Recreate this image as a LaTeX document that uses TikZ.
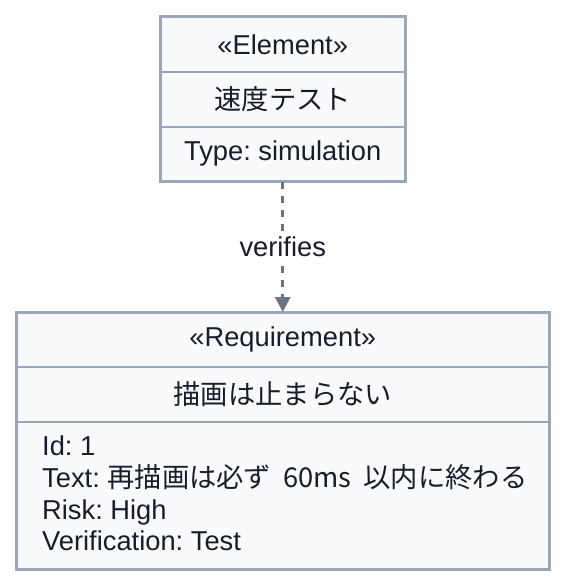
\documentclass[tikz,border=0pt]{standalone}
\usepackage{fontspec}
\setmainfont{Liberation Sans}
\newfontfamily\cjk{Noto Sans CJK JP}
\usetikzlibrary{arrows.meta}
\frenchspacing
\definecolor{bordc}{HTML}{9CA6B9}
\definecolor{fillc}{HTML}{F8FAFC}
\definecolor{txtc}{HTML}{1A1C2A}
\definecolor{arrc}{HTML}{6B7385}
\tikzset{
  comp/.style={draw=bordc, line width=1.5pt, fill=fillc, inner sep=0pt, anchor=north west, text=txtc},
  frame/.style={draw=bordc, line width=2.5pt},
  attr/.style={text=txtc, inner sep=0pt, anchor=base west},
  conn/.style={draw=arrc, line width=3pt, dash pattern=on 7pt off 7pt, -{Triangle[width=15pt,length=15pt]}},
  lab/.style={fill=white, text=txtc, inner sep=5pt}
}
\begin{document}
\begin{tikzpicture}[x=1pt, y=-1pt, font=\fontsize{27.3}{31.7}\selectfont]
\useasboundingbox (0,0) rectangle (564,584);
% Element block
\node[comp, minimum width=244pt, minimum height=55pt] (e1) at (160,16) {«Element»};
\node[comp, minimum width=244pt, minimum height=55pt] (e2) at (160,71) {\cjk 速度テスト};
\node[comp, minimum width=244pt, minimum height=54pt] (e3) at (160,126) {Type: simulation};
\draw[frame] (e1.north west) rectangle (e3.south east);
% Requirement block
\node[comp, minimum width=532pt, minimum height=54pt] (r1) at (16,312) {«Requirement»};
\node[comp, minimum width=532pt, minimum height=55pt] (r2) at (16,366) {\cjk 描画は止まらない};
\node[comp, minimum width=532pt, minimum height=147pt] (r3) at (16,421) {};
\draw[frame] (r1.north west) rectangle (r3.south east);
\node[attr] (a1) at (42,455) {Id: 1};
\node[attr] (a2) at (42,487) {Text: {\cjk 再描画は必ず\hspace{12pt}60ms\hspace{12pt}以内に終わる}};
\node[attr] (a3) at (42,519) {Risk: High};
\node[attr] (a4) at (42,550) {Verification: Test};
% Connector
\draw[conn] (e3.south) -- (r1.north) node[lab, midway] (vl) {verifies};
\end{tikzpicture}
\end{document}
